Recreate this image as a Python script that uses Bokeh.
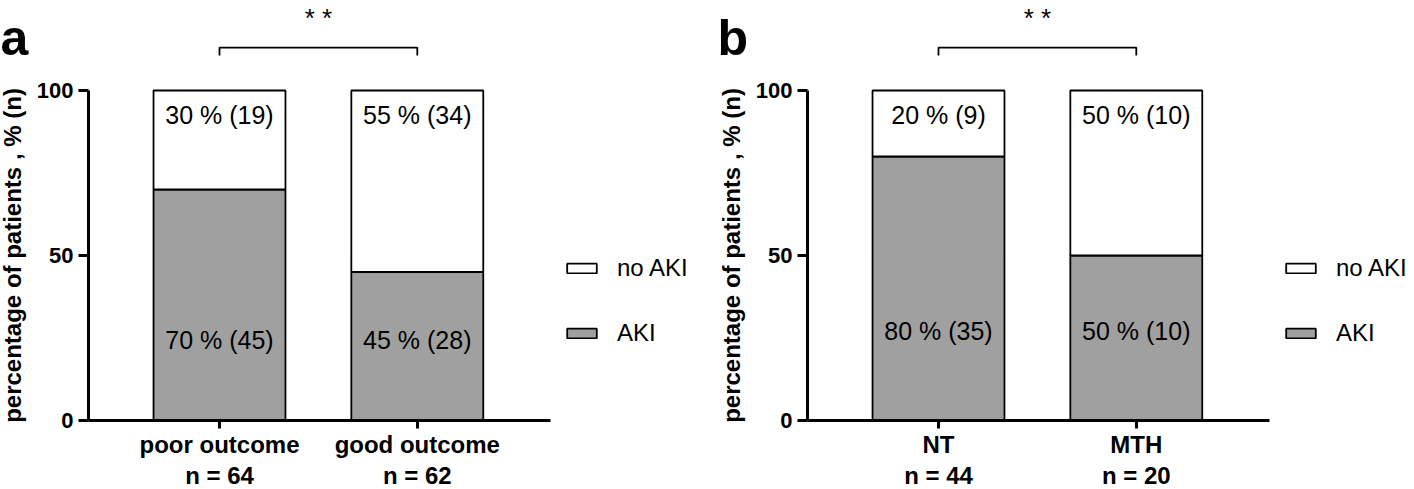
from bokeh.plotting import figure
from bokeh.models import (Range1d, FixedTicker, Legend, LegendItem, Label,
                          ColumnDataSource)
from bokeh.layouts import row
from bokeh.embed import file_html
from bokeh.resources import INLINE
from bokeh.core.properties import value

# ---- data ----
groups_a = ["poor outcome", "good outcome"]
n_a = [64, 62]
aki_pct_a = [70, 45]
aki_n_a = [45, 28]
noaki_pct_a = [30, 55]
noaki_n_a = [19, 34]

groups_b = ["NT", "MTH"]
n_b = [44, 20]
aki_pct_b = [80, 50]
aki_n_b = [35, 10]
noaki_pct_b = [20, 50]
noaki_n_b = [9, 10]

y_ticks = [0, 50, 100]
series_labels = ["AKI", "no AKI"]
series_colors = ["#a0a0a0", "#ffffff"]
sig_text = "* *"
y_title = "percentage of patients , % (n)"

FONT = "Liberation Sans"

# ---- layout constants (pixels) ----
H = 489            # canvas height
PX_X = 197.8       # px per category step
PX_Y = 3.3         # px per percent
Y0_PX = 420        # canvas y of value 0
FIRST_OFF = 131    # px from y axis to first bar centre
FRAME_W = 462      # px from y axis to end of x axis


def make_panel(letter, groups, n, aki_pct, aki_n, noaki_pct, noaki_n,
               width, axis_px, low_label_y, letter_px):
    xs = [i + 1 for i in range(len(groups))]
    src = ColumnDataSource(dict(
        x=xs, aki=aki_pct, noaki=noaki_pct,
        aki_lbl=[f"{p} % ({k})" for p, k in zip(aki_pct, aki_n)],
        noaki_lbl=[f"{p} % ({k})" for p, k in zip(noaki_pct, noaki_n)],
    ))
    x_start = 1 - (axis_px + FIRST_OFF) / PX_X
    x_end = x_start + width / PX_X
    x_axis_at = 1 - FIRST_OFF / PX_X
    x_axis_end = x_axis_at + FRAME_W / PX_X
    y_end = Y0_PX / PX_Y
    y_start = -(H - Y0_PX) / PX_Y

    p = figure(x_range=Range1d(x_start, x_end), y_range=Range1d(y_start, y_end),
               width=width, height=H, min_border=0, title=None,
               output_backend="svg", toolbar_location=None)
    p.xgrid.visible = False
    p.ygrid.visible = False
    p.outline_line_color = None

    rs = p.vbar_stack(["aki", "noaki"], x="x", width=0.667, source=src,
                      fill_color=series_colors, line_color="black", line_width=1.8)

    p.text(x="x", y=92.5, text="noaki_lbl", source=src, text_align="center",
           text_baseline="middle", text_font=value(FONT), text_font_size="25px",
           text_color="black")
    p.text(x="x", y=low_label_y, text="aki_lbl", source=src, text_align="center",
           text_baseline="middle", text_font=value(FONT), text_font_size="25px",
           text_color="black")

    # significance bracket between the two groups
    p.line(x=[xs[0], xs[0], xs[1], xs[1]], y=[110.6, 113, 113, 110.6],
           line_color="black", line_width=1.8)
    p.add_layout(Label(x=(xs[0] + xs[1]) / 2, y=126.6, text=sig_text,
                       text_align="center", text_baseline="top", text_font=FONT,
                       text_font_size="26px", text_color="black"))
    # panel letter
    p.add_layout(Label(x=letter_px, y=116, x_units="screen", text=letter,
                       text_align="left", text_baseline="alphabetic",
                       text_font=FONT, text_font_size="50px",
                       text_font_style="bold", text_color="black"))

    ya = p.yaxis[0]
    ya.fixed_location = x_axis_at
    ya.ticker = FixedTicker(ticks=y_ticks)
    ya.bounds = (0, 100)
    ya.axis_line_width = 3
    ya.major_tick_line_width = 3
    ya.major_tick_out = 10
    ya.major_tick_in = 0
    ya.minor_tick_out = 0
    ya.minor_tick_in = 0
    ya.major_label_text_font = FONT
    ya.major_label_text_font_size = "22px"
    ya.major_label_text_font_style = "bold"
    ya.major_label_text_color = "black"
    ya.major_label_standoff = 5
    ya.axis_label = y_title
    ya.axis_label_text_font = FONT
    ya.axis_label_text_font_size = "24px"
    ya.axis_label_text_font_style = "bold"
    ya.axis_label_text_color = "black"
    ya.axis_label_standoff = 8

    xa = p.xaxis[0]
    xa.fixed_location = 0
    xa.ticker = FixedTicker(ticks=xs)
    xa.major_label_overrides = {x: f"{g}\nn = {k}" for x, g, k in zip(xs, groups, n)}
    xa.bounds = (x_axis_at, x_axis_end)
    xa.axis_line_width = 3
    xa.major_tick_line_width = 3
    xa.major_tick_out = 8
    xa.major_tick_in = 0
    xa.minor_tick_out = 0
    xa.minor_tick_in = 0
    xa.major_label_text_font = FONT
    xa.major_label_text_font_size = "24px"
    xa.major_label_text_font_style = "bold"
    xa.major_label_text_color = "black"
    xa.major_label_standoff = 2
    xa.major_label_text_line_height = 1.15

    legend = Legend(items=[LegendItem(label=series_labels[1], renderers=[rs[1]]),
                           LegendItem(label=series_labels[0], renderers=[rs[0]])],
                    location=(axis_px + 475, 142), orientation="vertical",
                    padding=0, margin=0, spacing=37, glyph_width=37,
                    glyph_height=12, label_standoff=17, label_height=28,
                    label_text_font=FONT, label_text_font_size="24px",
                    label_text_color="black", background_fill_alpha=0,
                    border_line_alpha=0)
    p.add_layout(legend)
    return p


pa = make_panel("a", groups_a, n_a, aki_pct_a, aki_n_a, noaki_pct_a, noaki_n_a,
                708, 88, 24.5, 0)
pb = make_panel("b", groups_b, n_b, aki_pct_b, aki_n_b, noaki_pct_b, noaki_n_b,
                706, 99, 27, 9)

layout = row(pa, pb, spacing=0)
open("out.html", "w").write(file_html(layout, INLINE))
